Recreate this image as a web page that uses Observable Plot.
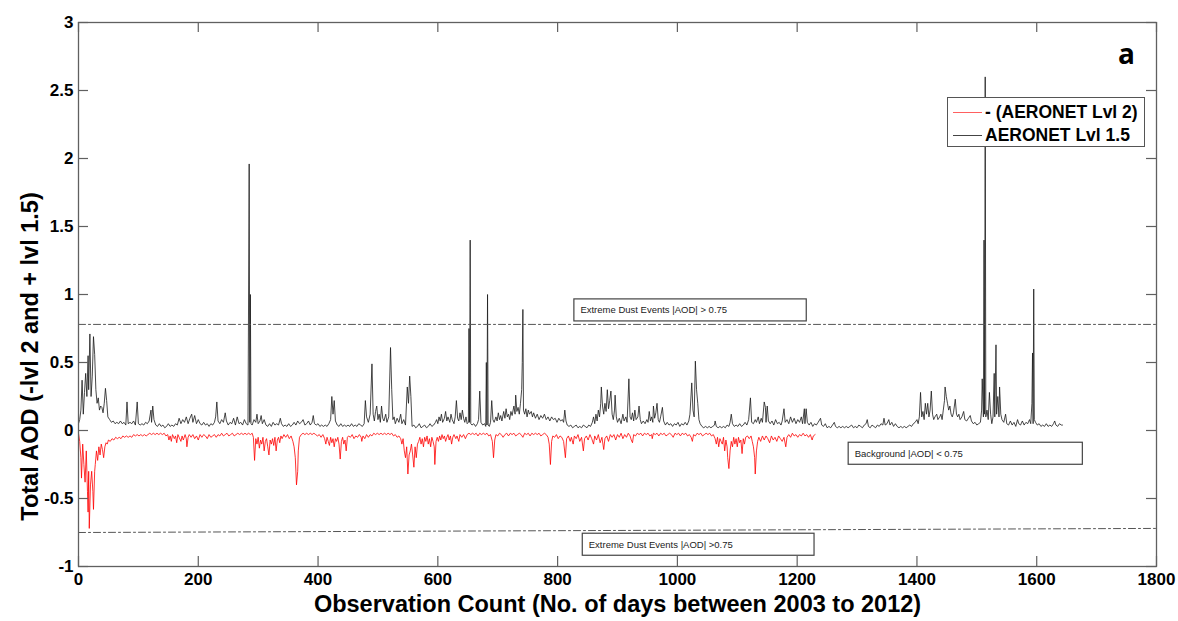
<!DOCTYPE html>
<html><head><meta charset="utf-8">
<script src="https://cdn.jsdelivr.net/npm/d3@7"></script>
<script src="https://cdn.jsdelivr.net/npm/@observablehq/plot@0.6"></script>
<style>
body{margin:0;background:#fff;}
#wrap{position:relative;width:1178px;height:621px;font-family:"Liberation Sans",Arial,sans-serif;overflow:hidden;}
#legend{position:absolute;left:947px;top:97px;width:198px;height:50px;border:1px solid #555;background:#fff;box-sizing:border-box;}
.lrow{position:absolute;left:0;height:20px;font-weight:bold;font-size:17.5px;line-height:20px;color:#000;white-space:nowrap;}
.lrow span.sw{position:absolute;left:5px;top:10px;width:29px;height:0;border-top:1px solid;}
.lrow span.tx{position:absolute;left:37px;top:0;}
#panel{position:absolute;left:1118px;top:38px;font-family:"Open Sans",Arial,sans-serif;font-weight:bold;font-size:28px;line-height:30px;}
</style></head><body>
<div id="wrap">
  <div id="chart"></div>
  <div id="legend">
    <div class="lrow" style="top:4px"><span class="sw" style="border-color:#ff6060"></span><span class="tx" id="lab2"></span></div>
    <div class="lrow" style="top:27px"><span class="sw" style="border-color:#444"></span><span class="tx" id="lab15"></span></div>
  </div>
  <div id="panel">a</div>
</div>
<script>
const xTicks = [0,200,400,600,800,1000,1200,1400,1600,1800];
const yTicks = [-1,-0.5,0,0.5,1,1.5,2,2.5,3];
const seriesNames = ["- (AERONET Lvl 2)", "AERONET Lvl 1.5"];
const xLabel = "Observation Count (No. of days between 2003 to 2012)";
const yLabel = "Total AOD (-lvl 2 and + lvl 1.5)";

// AERONET Lvl 1.5 total AOD: [day, AOD]
const lvl15 = [[0,0.05],[2,0.08],[4,0.15],[6,0.37],[8,0.12],[10,0.28],[12,0.42],[14,0.25],[16,0.55],[17,0.3],[19,0.71],[21,0.25],[23,0.4],[25,0.69],[27,0.56],[29,0.3],[31,0.2],[33,0.24],[35,0.15],[37,0.18],[39,0.17],[41,0.13],[43,0.2],[45,0.31],[47,0.22],[49,0.1],[52,0.08],[55,0.06],[58,0.07],[61,0.05],[64,0.06],[67,0.05],[70,0.07],[73,0.05],[76,0.06],[79,0.04],[81,0.21],[83,0.05],[86,0.06],[89,0.05],[92,0.07],[95,0.04],[98,0.21],[100,0.05],[103,0.04],[106,0.05],[109,0.04],[112,0.06],[115,0.05],[118,0.07],[121,0.15],[122,0.06],[124,0.18],[126,0.08],[129,0.04],[132,0.03],[135,0.05],[138,0.03],[141,0.04],[144,0.02],[147,0.03],[150,0.05],[153,0.03],[156,0.04],[159,0.03],[162,0.05],[165,0.04],[168,0.09],[171,0.05],[174,0.08],[177,0.06],[180,0.1],[183,0.05],[186,0.09],[189,0.12],[191,0.06],[194,0.11],[197,0.05],[200,0.08],[203,0.05],[206,0.04],[209,0.06],[212,0.04],[215,0.05],[218,0.03],[221,0.05],[224,0.04],[227,0.06],[229,0.1],[231,0.21],[233,0.07],[236,0.05],[239,0.08],[242,0.06],[245,0.13],[247,0.07],[250,0.04],[253,0.06],[256,0.05],[259,0.09],[262,0.04],[265,0.1],[268,0.05],[271,0.06],[274,0.04],[277,0.08],[280,0.05],[283,0.04],[285,1.96],[286,0.06],[287,1.0],[288,0.05],[290,0.04],[293,0.08],[296,0.06],[298,0.12],[300,0.05],[303,0.07],[305,0.11],[307,0.05],[310,0.08],[313,0.04],[316,0.03],[319,0.05],[322,0.03],[325,0.06],[328,0.04],[331,0.05],[334,0.04],[337,0.09],[339,0.05],[342,0.03],[345,0.04],[348,0.03],[351,0.05],[354,0.03],[357,0.04],[360,0.06],[363,0.04],[366,0.07],[369,0.05],[372,0.06],[375,0.08],[378,0.04],[381,0.05],[384,0.07],[387,0.04],[390,0.06],[392,0.11],[394,0.05],[397,0.04],[400,0.05],[403,0.03],[406,0.04],[409,0.03],[412,0.04],[415,0.03],[418,0.05],[421,0.08],[423,0.25],[425,0.12],[427,0.22],[429,0.07],[432,0.04],[435,0.03],[438,0.05],[441,0.03],[444,0.04],[447,0.03],[450,0.04],[453,0.03],[456,0.05],[459,0.03],[462,0.04],[465,0.03],[468,0.05],[471,0.04],[474,0.03],[477,0.05],[479,0.22],[481,0.1],[484,0.06],[487,0.12],[490,0.49],[492,0.12],[494,0.07],[496,0.14],[498,0.18],[500,0.08],[502,0.12],[504,0.06],[506,0.18],[508,0.09],[510,0.07],[513,0.12],[515,0.06],[518,0.1],[521,0.61],[523,0.3],[525,0.08],[527,0.1],[529,0.05],[532,0.09],[535,0.06],[538,0.12],[540,0.05],[543,0.08],[546,0.04],[549,0.32],[551,0.2],[553,0.4],[555,0.25],[557,0.03],[560,0.04],[563,0.02],[566,0.03],[569,0.05],[572,0.02],[575,0.03],[578,0.04],[581,0.02],[584,0.03],[587,0.05],[590,0.03],[593,0.04],[596,0.06],[598,0.08],[600,0.05],[602,0.1],[604,0.07],[606,0.12],[608,0.06],[611,0.09],[613,0.14],[615,0.07],[617,0.1],[620,0.06],[622,0.12],[624,0.08],[627,0.05],[629,0.1],[631,0.22],[633,0.09],[635,0.07],[637,0.13],[639,0.08],[641,0.15],[643,0.09],[645,0.06],[647,0.1],[649,0.05],[651,0.06],[652,0.75],[653,0.06],[654,1.4],[655,0.05],[657,0.04],[660,0.05],[663,0.03],[666,0.05],[668,0.08],[670,0.29],[672,0.06],[675,0.04],[678,0.05],[680,0.03],[681,0.5],[682,0.04],[683,1.0],[684,0.04],[686,0.03],[688,0.06],[690,0.22],[692,0.08],[694,0.06],[697,0.1],[699,0.07],[701,0.13],[703,0.08],[705,0.11],[707,0.07],[710,0.14],[712,0.09],[714,0.16],[716,0.1],[718,0.12],[720,0.08],[722,0.14],[724,0.11],[727,0.18],[729,0.12],[730,0.26],[732,0.14],[734,0.17],[736,0.12],[738,0.2],[740,0.3],[741,0.5],[742,0.89],[743,0.15],[745,0.12],[747,0.16],[749,0.1],[751,0.15],[753,0.12],[756,0.14],[758,0.1],[760,0.13],[763,0.09],[766,0.12],[769,0.08],[772,0.11],[775,0.09],[778,0.12],[781,0.08],[784,0.1],[787,0.07],[790,0.1],[793,0.08],[796,0.09],[799,0.06],[802,0.09],[805,0.07],[808,0.08],[810,0.06],[812,0.15],[814,0.07],[816,0.04],[819,0.03],[822,0.04],[825,0.02],[828,0.03],[831,0.04],[834,0.02],[837,0.03],[840,0.02],[843,0.04],[846,0.03],[849,0.02],[852,0.04],[855,0.03],[858,0.06],[860,0.1],[862,0.05],[864,0.12],[866,0.07],[868,0.15],[870,0.1],[872,0.2],[873,0.32],[875,0.18],[877,0.12],[879,0.2],[881,0.14],[883,0.3],[885,0.16],[887,0.22],[889,0.29],[891,0.12],[893,0.08],[895,0.15],[896,0.26],[898,0.1],[900,0.06],[903,0.09],[906,0.05],[909,0.12],[911,0.07],[914,0.1],[916,0.06],[919,0.38],[921,0.1],[923,0.08],[925,0.13],[927,0.07],[929,0.15],[931,0.08],[934,0.1],[936,0.18],[938,0.08],[940,0.05],[943,0.07],[946,0.05],[949,0.08],[951,0.06],[953,0.14],[955,0.07],[957,0.1],[959,0.06],[960,0.18],[962,0.09],[964,0.13],[966,0.2],[968,0.08],[970,0.06],[972,0.1],[975,0.17],[977,0.07],[980,0.04],[983,0.06],[986,0.04],[989,0.05],[992,0.03],[995,0.05],[998,0.04],[1001,0.06],[1004,0.03],[1007,0.05],[1010,0.04],[1013,0.06],[1016,0.04],[1019,0.07],[1021,0.12],[1024,0.35],[1026,0.15],[1028,0.1],[1030,0.51],[1032,0.3],[1034,0.2],[1036,0.08],[1038,0.05],[1041,0.03],[1044,0.02],[1047,0.03],[1050,0.02],[1053,0.03],[1056,0.02],[1059,0.03],[1062,0.04],[1063,0.07],[1065,0.03],[1068,0.02],[1071,0.03],[1074,0.02],[1077,0.03],[1080,0.02],[1083,0.04],[1086,0.03],[1088,0.06],[1090,0.12],[1092,0.05],[1095,0.03],[1098,0.04],[1101,0.03],[1104,0.05],[1107,0.03],[1110,0.04],[1113,0.06],[1116,0.04],[1119,0.08],[1122,0.24],[1124,0.06],[1127,0.05],[1130,0.08],[1132,0.06],[1135,0.1],[1137,0.05],[1140,0.09],[1142,0.06],[1145,0.21],[1147,0.17],[1148,0.06],[1150,0.18],[1152,0.07],[1155,0.05],[1158,0.07],[1161,0.04],[1164,0.08],[1167,0.05],[1170,0.06],[1173,0.04],[1175,0.07],[1178,0.16],[1180,0.06],[1183,0.08],[1186,0.05],[1189,0.1],[1192,0.06],[1195,0.09],[1198,0.05],[1201,0.08],[1204,0.06],[1207,0.1],[1209,0.05],[1212,0.16],[1213,0.05],[1215,0.16],[1217,0.06],[1220,0.04],[1223,0.06],[1226,0.03],[1229,0.05],[1232,0.04],[1235,0.06],[1239,0.09],[1241,0.04],[1244,0.03],[1247,0.05],[1250,0.02],[1253,0.03],[1256,0.02],[1259,0.04],[1262,0.06],[1264,0.03],[1267,0.02],[1270,0.03],[1273,0.02],[1276,0.03],[1279,0.02],[1282,0.03],[1285,0.02],[1288,0.03],[1291,0.04],[1294,0.02],[1297,0.03],[1300,0.02],[1303,0.04],[1306,0.03],[1309,0.02],[1312,0.04],[1315,0.05],[1317,0.08],[1319,0.03],[1322,0.02],[1325,0.04],[1328,0.03],[1331,0.02],[1334,0.04],[1337,0.03],[1340,0.05],[1343,0.04],[1345,0.09],[1347,0.04],[1350,0.05],[1353,0.08],[1355,0.04],[1358,0.06],[1361,0.03],[1364,0.05],[1367,0.03],[1370,0.02],[1373,0.03],[1376,0.02],[1379,0.03],[1382,0.02],[1385,0.03],[1388,0.04],[1391,0.03],[1394,0.05],[1397,0.06],[1400,0.08],[1402,0.05],[1404,0.1],[1406,0.28],[1408,0.1],[1410,0.14],[1412,0.08],[1414,0.2],[1416,0.12],[1418,0.2],[1420,0.1],[1422,0.15],[1424,0.29],[1426,0.12],[1428,0.08],[1430,0.1],[1433,0.12],[1435,0.08],[1438,0.1],[1440,0.12],[1442,0.08],[1444,0.15],[1446,0.22],[1447,0.32],[1449,0.25],[1451,0.2],[1453,0.15],[1455,0.18],[1457,0.12],[1459,0.1],[1461,0.13],[1464,0.23],[1466,0.12],[1468,0.1],[1470,0.12],[1472,0.08],[1475,0.1],[1478,0.14],[1480,0.08],[1483,0.07],[1486,0.09],[1489,0.11],[1491,0.07],[1494,0.05],[1497,0.06],[1500,0.04],[1503,0.05],[1506,0.06],[1508,0.15],[1509,0.38],[1511,0.1],[1512,1.4],[1513,0.12],[1514,2.6],[1515,0.1],[1517,0.15],[1519,0.08],[1521,0.28],[1523,0.12],[1525,0.05],[1527,0.1],[1529,0.42],[1530,0.1],[1532,0.63],[1533,0.12],[1535,0.25],[1537,0.1],[1538,0.32],[1540,0.12],[1542,0.08],[1545,0.06],[1548,0.12],[1550,0.05],[1553,0.04],[1556,0.07],[1559,0.04],[1562,0.06],[1565,0.03],[1568,0.08],[1570,0.05],[1573,0.04],[1576,0.07],[1579,0.04],[1582,0.06],[1585,0.05],[1588,0.08],[1590,0.05],[1592,0.2],[1593,0.57],[1594,0.05],[1595,1.04],[1596,0.08],[1598,0.06],[1601,0.04],[1604,0.05],[1607,0.03],[1610,0.04],[1613,0.03],[1616,0.05],[1619,0.03],[1622,0.04],[1625,0.03],[1628,0.05],[1630,0.07],[1632,0.04],[1635,0.03],[1638,0.05],[1641,0.04],[1643,0.04]];

// AERONET Lvl 2 total AOD (drawn as negative): [day, AOD]
const lvl2 = [[0,0.02],[2,0.08],[4,0.2],[5,0.35],[7,0.1],[9,0.25],[11,0.38],[13,0.15],[15,0.45],[16,0.6],[17,0.3],[18,0.72],[20,0.4],[22,0.3],[24,0.45],[25,0.58],[27,0.3],[28,0.25],[30,0.15],[32,0.22],[34,0.12],[36,0.18],[38,0.1],[40,0.14],[42,0.2],[44,0.12],[46,0.09],[48,0.1],[50,0.07],[53,0.08],[56,0.06],[59,0.07],[62,0.05],[65,0.06],[68,0.05],[71,0.06],[74,0.04],[77,0.05],[80,0.04],[83,0.05],[86,0.04],[89,0.05],[92,0.03],[95,0.04],[98,0.03],[101,0.04],[104,0.03],[107,0.04],[110,0.03],[113,0.04],[116,0.03],[119,0.02],[122,0.03],[125,0.02],[128,0.03],[131,0.02],[134,0.03],[137,0.02],[140,0.03],[143,0.02],[146,0.04],[149,0.03],[151,0.07],[153,0.04],[155,0.08],[157,0.03],[160,0.06],[162,0.04],[164,0.09],[166,0.03],[168,0.05],[171,0.08],[173,0.04],[175,0.07],[178,0.03],[180,0.06],[181,0.12],[183,0.05],[185,0.03],[188,0.05],[191,0.03],[194,0.06],[197,0.04],[200,0.07],[203,0.03],[206,0.05],[209,0.03],[212,0.04],[215,0.06],[218,0.03],[221,0.05],[224,0.04],[227,0.03],[230,0.05],[233,0.03],[236,0.04],[239,0.02],[242,0.04],[245,0.03],[248,0.02],[251,0.04],[254,0.03],[257,0.02],[260,0.04],[263,0.03],[266,0.02],[269,0.03],[272,0.02],[275,0.03],[278,0.02],[281,0.03],[284,0.02],[287,0.03],[290,0.02],[292,0.05],[294,0.22],[296,0.06],[298,0.1],[300,0.05],[302,0.13],[304,0.07],[306,0.1],[308,0.05],[310,0.15],[312,0.08],[314,0.06],[316,0.12],[318,0.18],[320,0.07],[322,0.1],[324,0.06],[326,0.11],[328,0.05],[330,0.15],[332,0.07],[334,0.05],[336,0.09],[338,0.04],[340,0.06],[343,0.03],[346,0.05],[349,0.03],[352,0.06],[355,0.04],[358,0.08],[360,0.12],[362,0.2],[364,0.4],[366,0.3],[367,0.15],[369,0.05],[372,0.03],[375,0.02],[378,0.03],[381,0.02],[384,0.03],[387,0.02],[390,0.03],[393,0.02],[396,0.03],[399,0.04],[402,0.03],[405,0.05],[408,0.03],[411,0.06],[413,0.1],[415,0.05],[417,0.08],[419,0.11],[421,0.05],[423,0.09],[425,0.06],[427,0.12],[429,0.06],[431,0.08],[433,0.05],[435,0.1],[437,0.21],[439,0.08],[441,0.05],[443,0.1],[445,0.07],[447,0.15],[449,0.05],[451,0.04],[454,0.05],[457,0.03],[460,0.06],[463,0.04],[466,0.05],[469,0.03],[472,0.05],[473,0.08],[475,0.04],[478,0.06],[481,0.03],[484,0.05],[487,0.03],[490,0.04],[493,0.02],[496,0.03],[499,0.02],[502,0.03],[505,0.02],[508,0.03],[511,0.02],[514,0.03],[517,0.02],[520,0.03],[523,0.02],[526,0.04],[529,0.03],[532,0.05],[535,0.04],[538,0.06],[540,0.1],[542,0.06],[544,0.15],[546,0.2],[548,0.12],[550,0.32],[552,0.18],[554,0.15],[556,0.1],[558,0.18],[560,0.27],[562,0.12],[564,0.2],[566,0.1],[568,0.08],[570,0.05],[572,0.1],[574,0.06],[576,0.12],[578,0.05],[580,0.08],[582,0.04],[584,0.1],[586,0.06],[588,0.12],[590,0.05],[592,0.08],[594,0.12],[595,0.25],[597,0.08],[599,0.05],[601,0.08],[603,0.04],[605,0.07],[607,0.03],[609,0.06],[611,0.04],[613,0.08],[615,0.05],[617,0.03],[619,0.07],[621,0.04],[623,0.1],[625,0.05],[627,0.03],[630,0.06],[632,0.04],[635,0.08],[637,0.03],[640,0.05],[643,0.03],[646,0.06],[649,0.03],[652,0.02],[655,0.03],[658,0.02],[661,0.03],[664,0.02],[667,0.04],[670,0.02],[673,0.03],[676,0.02],[679,0.03],[682,0.02],[685,0.04],[688,0.03],[691,0.08],[693,0.2],[695,0.07],[697,0.03],[700,0.04],[703,0.02],[706,0.03],[709,0.05],[712,0.03],[715,0.02],[718,0.04],[721,0.02],[724,0.03],[727,0.02],[730,0.04],[733,0.03],[736,0.02],[739,0.03],[742,0.05],[745,0.02],[748,0.03],[751,0.02],[754,0.04],[757,0.02],[760,0.03],[763,0.02],[766,0.03],[769,0.02],[772,0.04],[775,0.03],[778,0.02],[781,0.03],[784,0.05],[786,0.1],[788,0.25],[790,0.08],[792,0.04],[795,0.05],[798,0.03],[801,0.06],[804,0.04],[807,0.05],[810,0.08],[813,0.2],[815,0.06],[818,0.04],[821,0.08],[823,0.05],[826,0.1],[828,0.04],[831,0.06],[834,0.03],[837,0.08],[840,0.05],[843,0.15],[845,0.06],[848,0.04],[851,0.07],[854,0.03],[857,0.06],[860,0.1],[862,0.04],[865,0.07],[868,0.03],[871,0.09],[874,0.05],[877,0.14],[879,0.06],[882,0.04],[885,0.08],[888,0.03],[891,0.05],[894,0.03],[897,0.07],[900,0.03],[903,0.05],[906,0.02],[909,0.06],[912,0.03],[915,0.05],[918,0.02],[921,0.04],[923,0.07],[925,0.09],[927,0.03],[930,0.04],[933,0.02],[936,0.03],[939,0.02],[942,0.04],[945,0.02],[948,0.03],[951,0.02],[954,0.04],[957,0.03],[958,0.06],[960,0.02],[963,0.03],[966,0.02],[969,0.04],[972,0.02],[975,0.03],[978,0.02],[981,0.04],[984,0.03],[987,0.02],[990,0.03],[993,0.05],[996,0.02],[999,0.03],[1002,0.02],[1005,0.04],[1008,0.02],[1011,0.03],[1014,0.02],[1017,0.04],[1020,0.03],[1023,0.05],[1025,0.08],[1027,0.03],[1030,0.04],[1033,0.02],[1036,0.03],[1039,0.02],[1042,0.04],[1045,0.03],[1048,0.02],[1051,0.03],[1054,0.02],[1057,0.04],[1060,0.03],[1063,0.06],[1065,0.1],[1067,0.05],[1069,0.12],[1071,0.06],[1073,0.08],[1075,0.1],[1077,0.05],[1079,0.15],[1081,0.07],[1083,0.12],[1084,0.2],[1086,0.28],[1088,0.15],[1090,0.08],[1092,0.12],[1094,0.05],[1096,0.1],[1098,0.06],[1100,0.12],[1102,0.05],[1104,0.09],[1106,0.07],[1108,0.17],[1110,0.06],[1112,0.1],[1114,0.05],[1117,0.04],[1120,0.06],[1123,0.04],[1125,0.08],[1127,0.12],[1129,0.2],[1130,0.32],[1132,0.15],[1134,0.08],[1136,0.05],[1139,0.08],[1142,0.04],[1145,0.07],[1148,0.04],[1151,0.06],[1154,0.09],[1157,0.04],[1160,0.07],[1163,0.05],[1166,0.08],[1169,0.04],[1172,0.06],[1175,0.08],[1178,0.05],[1181,0.12],[1183,0.05],[1186,0.03],[1189,0.05],[1192,0.02],[1195,0.04],[1198,0.03],[1201,0.05],[1204,0.03],[1207,0.04],[1210,0.02],[1213,0.04],[1216,0.03],[1219,0.05],[1222,0.03],[1225,0.07],[1227,0.04],[1230,0.03]];

// threshold reference lines
const upperThreshold = [[0,0.78],[1800,0.78]];
const lowerThreshold = [[0,-0.75],[1800,-0.72]];

// annotation boxes
const boxLabels = ["Extreme Dust Events |AOD| > 0.75", "Background |AOD| < 0.75", "Extreme Dust Events |AOD| >0.75"];
const boxX1 = [828, 1286, 842];
const boxX2 = [1216, 1677, 1229];
const boxTop = [0.964, -0.09, -0.759];
const boxBottom = [0.802, -0.252, -0.921];

const W = 1178, H = 621, mL = 78, mR = 22, mT = 22, mB = 55;
const xDomain = [0, 1800], yDomain = [-1, 3];
const tickPx = 10;
const tdx = tickPx * (xDomain[1] - xDomain[0]) / (W - mL - mR);
const tdy = tickPx * (yDomain[1] - yDomain[0]) / (H - mT - mB);

const boxes = boxLabels.map((t, i) => ({text: t, x1: boxX1[i], x2: boxX2[i], y1: boxTop[i], y2: boxBottom[i]}));

document.getElementById("lab2").textContent = seriesNames[0];
document.getElementById("lab15").textContent = seriesNames[1];

const axisColor = "#606060";
const chart = Plot.plot({
  width: W, height: H,
  marginLeft: mL, marginRight: mR, marginTop: mT, marginBottom: mB,
  style: {fontFamily: "Liberation Sans, Arial, sans-serif", background: "white", color: "black"},
  x: {domain: xDomain},
  y: {domain: yDomain},
  marks: [
    Plot.line(lvl2, {x: d => d[0], y: d => -d[1], stroke: "#ff0000", strokeWidth: 0.8}),
    Plot.line(lvl15, {x: d => d[0], y: d => d[1], stroke: "#1a1a1a", strokeWidth: 0.8}),
    Plot.line(upperThreshold, {x: d => d[0], y: d => d[1], stroke: "#555", strokeWidth: 1, strokeDasharray: "7,3,2,3"}),
    Plot.line(lowerThreshold, {x: d => d[0], y: d => d[1], stroke: "#555", strokeWidth: 1, strokeDasharray: "7,3,2,3"}),
    Plot.rect(boxes, {x1: "x1", x2: "x2", y1: "y1", y2: "y2", fill: "white", stroke: "#444", strokeWidth: 1.2}),
    Plot.text(boxes, {x: "x1", y: d => (d.y1 + d.y2) / 2, text: "text", textAnchor: "start", dx: 6, fontSize: 9.5, fill: "#222"}),
    // inward ticks on all four sides
    Plot.ruleX(xTicks, {x: d => d, y1: yDomain[0], y2: yDomain[0] + tdy, stroke: axisColor, strokeWidth: 1.2}),
    Plot.ruleX(xTicks, {x: d => d, y1: yDomain[1], y2: yDomain[1] - tdy, stroke: axisColor, strokeWidth: 1.2}),
    Plot.ruleY(yTicks, {y: d => d, x1: xDomain[0], x2: xDomain[0] + tdx, stroke: axisColor, strokeWidth: 1.2}),
    Plot.ruleY(yTicks, {y: d => d, x1: xDomain[1], x2: xDomain[1] - tdx, stroke: axisColor, strokeWidth: 1.2}),
    Plot.frame({stroke: axisColor, strokeWidth: 1.3}),
    Plot.axisX({ticks: xTicks, tickSize: 0, tickPadding: 6, tickFormat: d => String(d), fontSize: 17, fontWeight: "bold", label: null}),
    Plot.axisY({ticks: yTicks, tickSize: 0, tickPadding: 5, tickFormat: d => String(d), fontSize: 17, fontWeight: "bold", label: null}),
    Plot.text([xLabel], {frameAnchor: "bottom", dy: 45, text: d => d, fontSize: 23.5, fontWeight: "bold", fill: "black"}),
    Plot.text([yLabel], {frameAnchor: "left", textAnchor: "middle", dx: -48, dy: 62, rotate: -90, text: d => d, fontSize: 23.5, fontWeight: "bold", fill: "black"})
  ]
});
document.getElementById("chart").appendChild(chart);
</script>
</body></html>
